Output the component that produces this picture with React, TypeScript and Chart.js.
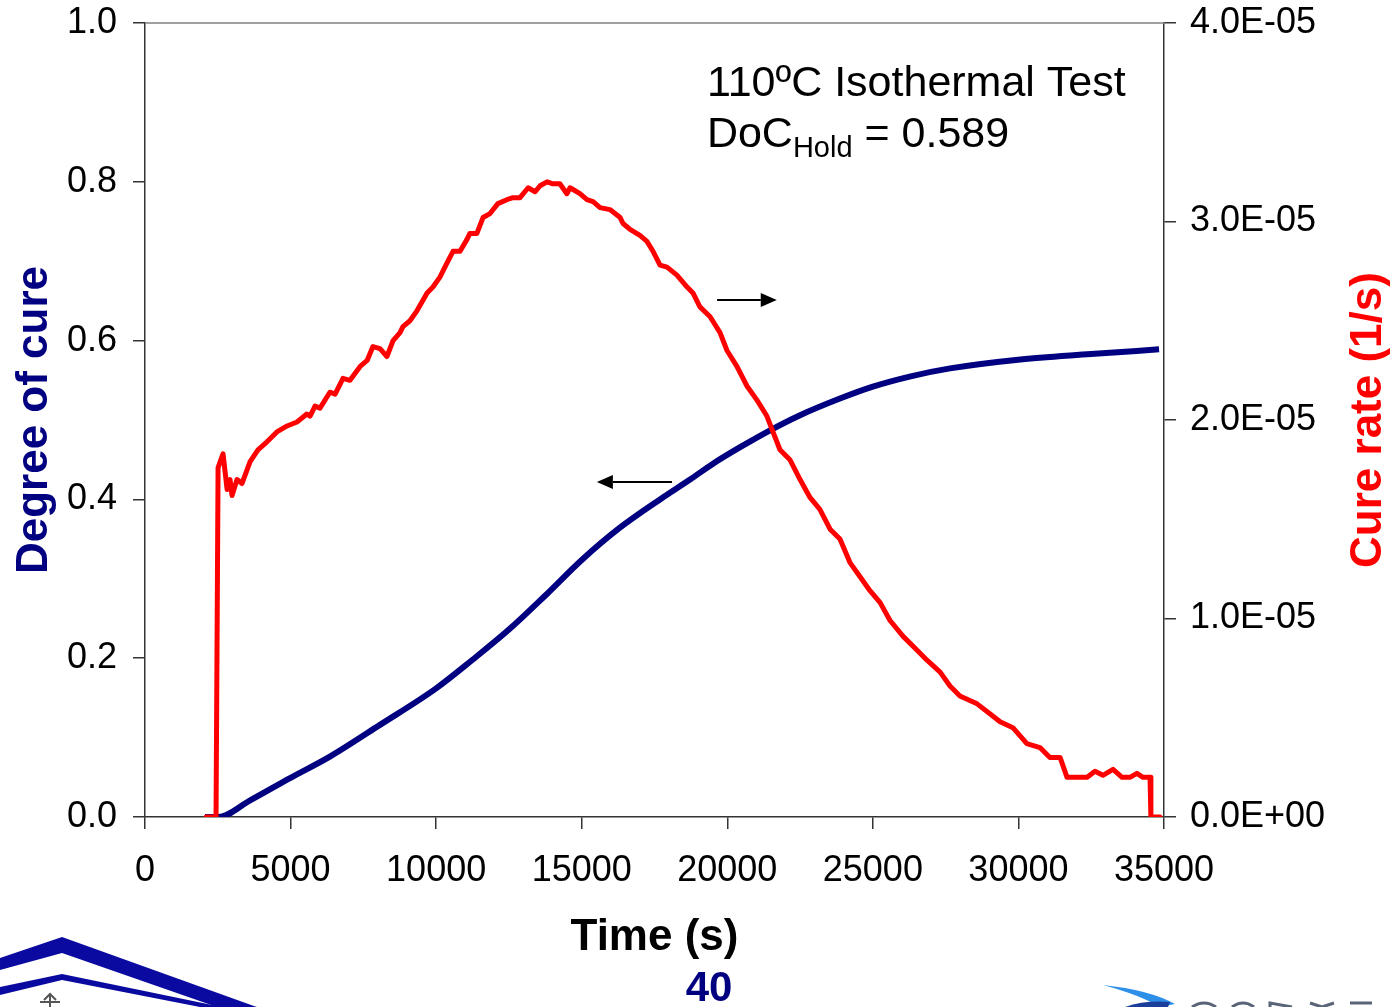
import { useEffect, useRef } from "react";
import { Chart, registerables } from "chart.js";

Chart.register(...registerables);

// Time axis (s)
const xTicks = [0, 5000, 10000, 15000, 20000, 25000, 30000, 35000];

// Degree of cure (left axis)
const timeDoC = [2060, 2510, 3610, 4980, 6350, 8070, 10000, 11250, 12500, 13750, 15010, 16300, 17690, 18720, 19510, 20500, 21470, 22500, 23870, 25000, 26300, 27650, 29990, 32490, 34830];
const doc = [0, 0, 0.021, 0.049, 0.076, 0.116, 0.162, 0.198, 0.236, 0.279, 0.324, 0.364, 0.400, 0.425, 0.445, 0.467, 0.487, 0.506, 0.527, 0.542, 0.555, 0.565, 0.576, 0.583, 0.589];

// Cure rate (right axis), in units of 1e-5 1/s
const timeRate = [2100, 2440, 2510, 2680, 2820, 2920, 2990, 3160, 3330, 3610,
  3880, 4190, 4530, 4880, 5220, 5560, 5670, 5840, 6010, 6350,
  6530, 6800, 7040, 7390, 7630, 7830, 8070, 8310, 8520, 8760,
  8860, 9100, 9340, 9690, 9890, 10130, 10370, 10580, 10820, 11060,
  11160, 11400, 11610, 11850, 12120, 12430, 12640, 12880, 13160, 13400,
  13570, 13810, 14010, 14250, 14490, 14600, 14940, 15180, 15390, 15630,
  15970, 16320, 16420, 16660, 17000, 17240, 17450, 17690, 17930, 18270,
  18620, 18820, 19060, 19410, 19750, 19990, 20330, 20680, 21020, 21360,
  21570, 21810, 22150, 22500, 22840, 23180, 23530, 23870, 24220, 24560,
  24900, 25250, 25590, 26040, 26520, 26860, 27310, 27650, 27990, 28580,
  29020, 29370, 29810, 30290, 30740, 31080, 31430, 31670, 32110, 32360,
  32630, 32900, 33250, 33560, 33830, 34070, 34280, 34520, 34550, 34860];
const rateE5 = [0, 0, 1.76, 1.83, 1.65, 1.70, 1.62, 1.70, 1.68, 1.79,
  1.85, 1.89, 1.94, 1.97, 1.99, 2.03, 2.02, 2.07, 2.06, 2.14,
  2.13, 2.21, 2.20, 2.27, 2.30, 2.37, 2.36, 2.32, 2.40, 2.44,
  2.47, 2.50, 2.55, 2.64, 2.67, 2.72, 2.79, 2.85, 2.85, 2.91,
  2.94, 2.94, 3.02, 3.04, 3.09, 3.11, 3.12, 3.12, 3.17, 3.15,
  3.18, 3.20, 3.19, 3.19, 3.14, 3.17, 3.14, 3.11, 3.10, 3.07,
  3.06, 3.02, 2.99, 2.96, 2.93, 2.90, 2.85, 2.78, 2.77, 2.73,
  2.67, 2.64, 2.57, 2.52, 2.44, 2.35, 2.27, 2.17, 2.10, 2.02,
  1.94, 1.85, 1.80, 1.70, 1.61, 1.55, 1.45, 1.40, 1.28, 1.21,
  1.14, 1.08, 0.99, 0.91, 0.84, 0.79, 0.73, 0.66, 0.61, 0.57,
  0.52, 0.48, 0.45, 0.37, 0.35, 0.30, 0.30, 0.20, 0.20, 0.20,
  0.23, 0.21, 0.24, 0.20, 0.20, 0.22, 0.20, 0.20, 0, 0];

const leftTicks = [0, 0.2, 0.4, 0.6, 0.8, 1.0];
const rightTicks = [0, 1e-5, 2e-5, 3e-5, 4e-5];

// Annotations (data coordinates)
const noteLine1 = "110\u00BAC Isothermal Test";
const noteMain = "DoC";
const noteSub = "Hold";
const noteRest = " = 0.589";
const noteAt = { x: 19300, y: 0.908 };
const arrowRight = { x0: 19650, x1: 21700, y: 2.605e-5 };
const arrowLeft = { x0: 18100, x1: 15520, y: 0.422 };
const pageNumber = "40";

const FONT = "'Liberation Sans', Arial, Helvetica, sans-serif";

function sci(v: number): string {
  if (Math.abs(v) < 1e-12) return "0.0E+00";
  let e = Math.floor(Math.log10(Math.abs(v)) + 1e-9);
  let m = v / Math.pow(10, e);
  if (Math.round(m * 10) / 10 >= 10) { m /= 10; e += 1; }
  const sign = e < 0 ? "-" : "+";
  return m.toFixed(1) + "E" + sign + String(Math.abs(e)).padStart(2, "0");
}

function drawArrow(ctx: CanvasRenderingContext2D, x0: number, x1: number, y: number) {
  const dir = x1 > x0 ? 1 : -1;
  const head = 16;
  ctx.save();
  ctx.strokeStyle = "#000";
  ctx.fillStyle = "#000";
  ctx.lineWidth = 2;
  ctx.beginPath();
  ctx.moveTo(x0, y);
  ctx.lineTo(x1 - dir * head, y);
  ctx.stroke();
  ctx.beginPath();
  ctx.moveTo(x1, y);
  ctx.lineTo(x1 - dir * head, y - 7);
  ctx.lineTo(x1 - dir * head, y + 7);
  ctx.closePath();
  ctx.fill();
  ctx.restore();
}

const extrasPlugin = {
  id: "extras",
  afterDraw(chart: any) {
    const ctx: CanvasRenderingContext2D = chart.ctx;
    const { left, right, top, bottom } = chart.chartArea;
    const sx = chart.scales.x;
    const sy = chart.scales.y;
    const sy1 = chart.scales.y1;
    ctx.save();
    // top frame line
    ctx.strokeStyle = "#808080";
    ctx.lineWidth = 1.5;
    ctx.beginPath();
    ctx.moveTo(left, top);
    ctx.lineTo(right, top);
    ctx.stroke();

    // arrows
    drawArrow(ctx, sx.getPixelForValue(arrowRight.x0), sx.getPixelForValue(arrowRight.x1), sy1.getPixelForValue(arrowRight.y));
    drawArrow(ctx, sx.getPixelForValue(arrowLeft.x0), sx.getPixelForValue(arrowLeft.x1), sy.getPixelForValue(arrowLeft.y));

    // annotation text
    const ax = sx.getPixelForValue(noteAt.x);
    const ay = sy.getPixelForValue(noteAt.y);
    ctx.fillStyle = "#000";
    ctx.textAlign = "left";
    ctx.textBaseline = "alphabetic";
    ctx.font = `43px ${FONT}`;
    ctx.fillText(noteLine1, ax, ay);
    const y2 = ay + 51;
    ctx.fillText(noteMain, ax, y2);
    let cx = ax + ctx.measureText(noteMain).width;
    ctx.font = `29px ${FONT}`;
    ctx.fillText(noteSub, cx, y2 + 10);
    cx += ctx.measureText(noteSub).width;
    ctx.font = `43px ${FONT}`;
    ctx.fillText(noteRest, cx, y2);

    // right axis title (reads bottom to top)
    ctx.save();
    ctx.translate(1369, (top + bottom) / 2);
    ctx.rotate(-Math.PI / 2);
    ctx.font = `bold 44px ${FONT}`;
    ctx.fillStyle = "#FF0000";
    ctx.textAlign = "center";
    ctx.textBaseline = "middle";
    ctx.fillText("Cure rate (1/s)", 0, 0);
    ctx.restore();

    // page number
    ctx.font = `bold 42px ${FONT}`;
    ctx.fillStyle = "#000080";
    ctx.textAlign = "center";
    ctx.textBaseline = "middle";
    ctx.fillText(pageNumber, 709, 989);
    ctx.restore();
  },
};

export default function App() {
  const ref = useRef<HTMLCanvasElement | null>(null);

  useEffect(() => {
    if (!ref.current) return;
    const rateData = timeRate.map((t, i) => ({ x: t, y: rateE5[i] * 1e-5 }));
    const docData = timeDoC.map((t, i) => ({ x: t, y: doc[i] }));
    const axisColor = "#333";
    const chart = new Chart(ref.current, {
      type: "line",
      data: {
        datasets: [
          {
            label: "Cure rate",
            data: rateData,
            yAxisID: "y1",
            borderColor: "#FF0000",
            backgroundColor: "#FF0000",
            borderWidth: 5,
            pointRadius: 0,
            tension: 0,
            borderJoinStyle: "round",
            borderCapStyle: "round",
            fill: false,
          },
          {
            label: "Degree of cure",
            data: docData,
            yAxisID: "y",
            borderColor: "#000080",
            backgroundColor: "#000080",
            borderWidth: 6,
            pointRadius: 0,
            cubicInterpolationMode: "monotone",
            borderJoinStyle: "round",
            fill: false,
          },
        ],
      },
      options: {
        responsive: false,
        animation: false,
        devicePixelRatio: 1,
        layout: { padding: { top: 23, left: 0, right: 0, bottom: 0 } },
        plugins: {
          legend: { display: false },
          tooltip: { enabled: false },
        },
        scales: {
          x: {
            type: "linear",
            position: "bottom",
            min: 0,
            max: 35000,
            afterBuildTicks: (s: any) => { s.ticks = xTicks.map((v) => ({ value: v })); },
            afterFit: (s: any) => { s.height = 190; },
            ticks: {
              callback: (v: any) => String(v),
              font: { size: 36, family: FONT },
              color: "#000",
              padding: 20,
              maxRotation: 0,
              autoSkip: false,
            },
            grid: { drawOnChartArea: false, drawTicks: true, tickLength: 12, color: axisColor, lineWidth: 1.5 },
            border: { display: true, color: axisColor, width: 1.5 },
            title: {
              display: true,
              text: "Time (s)",
              color: "#000",
              font: { size: 44, weight: "bold", family: FONT },
              padding: { top: 0, bottom: 43 },
            },
          },
          y: {
            type: "linear",
            position: "left",
            min: 0,
            max: 1,
            afterBuildTicks: (s: any) => { s.ticks = leftTicks.map((v) => ({ value: v })); },
            afterFit: (s: any) => { s.width = 145; s.paddingTop = 0; s.paddingBottom = 0; },
            ticks: {
              callback: (v: any) => Number(v).toFixed(1),
              font: { size: 36, family: FONT },
              color: "#000",
              padding: 16,
            },
            grid: { drawOnChartArea: false, drawTicks: true, tickLength: 12, color: axisColor, lineWidth: 1.5 },
            border: { display: true, color: axisColor, width: 1.5 },
            title: {
              display: true,
              text: "Degree of cure",
              color: "#000080",
              font: { size: 44, weight: "bold", family: FONT },
              padding: { top: 8, bottom: 0 },
            },
          },
          y1: {
            type: "linear",
            position: "right",
            min: 0,
            max: 4e-5,
            afterBuildTicks: (s: any) => { s.ticks = rightTicks.map((v) => ({ value: v })); },
            afterFit: (s: any) => { s.width = 229; s.paddingTop = 0; s.paddingBottom = 0; },
            ticks: {
              callback: (v: any) => sci(Number(v)),
              font: { size: 36, family: FONT },
              color: "#000",
              padding: 14,
            },
            grid: { drawOnChartArea: false, drawTicks: true, tickLength: 12, color: axisColor, lineWidth: 1.5 },
            border: { display: true, color: axisColor, width: 1.5 },
          },
        },
      } as any,
      plugins: [extrasPlugin],
    });
    return () => chart.destroy();
  }, []);

  return (
    <div style={{ position: "absolute", left: 0, top: 0, width: 1393, height: 1007, background: "#fff", overflow: "hidden" }}>
      <svg width={1393} height={1007} style={{ position: "absolute", left: 0, top: 0 }}>
        <polygon points="0,958 62,937 257,1007 217,1007 62,953 0,970" fill="#0A0AA0" />
        <polygon points="0,987 62,974 222,1007 200,1007 62,980 0,995" fill="#0A0AA0" />
        <path d="M44,1000 l6,-6 l6,6 M50,994 l0,13 M40,1002 l20,0" stroke="#555" strokeWidth={2} fill="none" />
        <path d="M1103,985 Q1150,990 1175,1004 L1160,1007 Q1140,995 1103,985 Z" fill="#2E8FE8" />
        <path d="M1125,1007 Q1145,1000 1170,1002 L1168,1007 Z" fill="#1A3E9A" />
        <path d="M1192,1007 Q1204,999 1216,1007 M1232,1007 Q1243,999 1254,1007 M1270,1007 L1270,1003 L1292,1007 M1310,1003 L1322,1007 L1334,1003 M1350,1003 L1372,1003" stroke="#5A6478" strokeWidth={3} fill="none" />
      </svg>
      <canvas ref={ref} width={1393} height={1007} style={{ position: "absolute", left: 0, top: 0, width: 1393, height: 1007 }} />
    </div>
  );
}
